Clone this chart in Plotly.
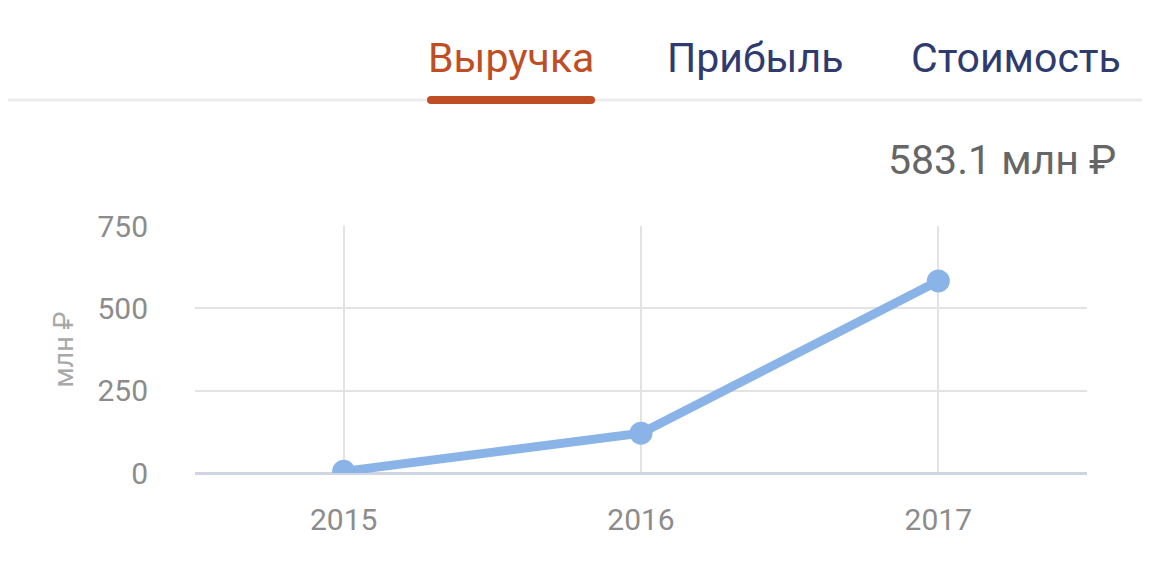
import plotly.graph_objects as go

years = [2015, 2016, 2017]
revenue = [5, 121, 583.1]
y_ticks = [0, 250, 500, 750]
tabs = ["Выручка", "Прибыль", "Стоимость"]
headline = "583.1 млн ₽"
y_title = "млн ₽"

OFF = 8  # page body margin compensation
W, H = 1150, 580
L, R, T, B = 195 - OFF, 63 + OFF, 226 - OFF, 107 + OFF
pw, ph = W - L - R, H - T - B


def px(x):
    return (x - OFF - L) / pw


def py(y):
    return (H - B - (y - OFF)) / ph


fig = go.Figure()
fig.add_trace(go.Scatter(
    x=years, y=revenue, mode="lines+markers",
    line=dict(color="#8ab4e8", width=9),
    marker=dict(color="#8ab4e8", size=23),
    hoverinfo="x+y", showlegend=False,
))

tab_x = [511, 755, 1016]
tab_colors = ["#bf4e24", "#2f3b6f", "#2f3b6f"]
annotations = []
for t, x, c in zip(tabs, tab_x, tab_colors):
    annotations.append(dict(
        text=t, x=px(x), y=py(58), xref="paper", yref="paper",
        xanchor="center", yanchor="middle", showarrow=False,
        font=dict(family="Roboto, sans-serif", size=41, color=c),
    ))
annotations.append(dict(
    text=headline, x=px(1118), y=py(160), xref="paper", yref="paper",
    xanchor="right", yanchor="middle", showarrow=False,
    font=dict(family="Roboto, sans-serif", size=41, color="#666666"),
))

shapes = [
    dict(type="line", xref="paper", yref="paper", x0=px(0), x1=px(1160), y0=py(100), y1=py(100),
         line=dict(color="#ececec", width=3)),
    dict(type="line", xref="paper", yref="paper", x0=px(431), x1=px(591), y0=py(100), y1=py(100),
         line=dict(color="#bf4e24", width=8)),
    dict(type="circle", xref="paper", yref="paper", x0=px(427), x1=px(435), y0=py(104), y1=py(96),
         fillcolor="#bf4e24", line=dict(width=0)),
    dict(type="circle", xref="paper", yref="paper", x0=px(587), x1=px(595), y0=py(104), y1=py(96),
         fillcolor="#bf4e24", line=dict(width=0)),
]

fig.update_layout(
    width=W, height=H,
    margin=dict(l=L, r=R, t=T, b=B, pad=0),
    paper_bgcolor="white", plot_bgcolor="white",
    font=dict(family="Roboto, sans-serif", color="#8c8c8c"),
    annotations=annotations,
    shapes=shapes,
    xaxis=dict(
        range=[2014.5, 2017.5], tickvals=years, ticktext=[str(y) for y in years],
        showgrid=True, gridcolor="#e3e3e3", gridwidth=2, zeroline=False,
        showline=False, ticks="", tickfont=dict(size=30, color="#8c8c8c"),
        ticklabelstandoff=26, fixedrange=True,
    ),
    yaxis=dict(
        range=[0, 750], tickvals=y_ticks,
        showgrid=True, gridcolor="#e3e3e3", gridwidth=2,
        zeroline=True, zerolinecolor="#cfd5e3", zerolinewidth=3,
        showline=False, ticks="", tickfont=dict(size=30, color="#8c8c8c"),
        ticklabelstandoff=46, fixedrange=True,
        title=dict(text=y_title, font=dict(size=27, color="#a8a8a8"), standoff=15),
    ),
)

fig.write_html("out.html", config={"displayModeBar": False})
